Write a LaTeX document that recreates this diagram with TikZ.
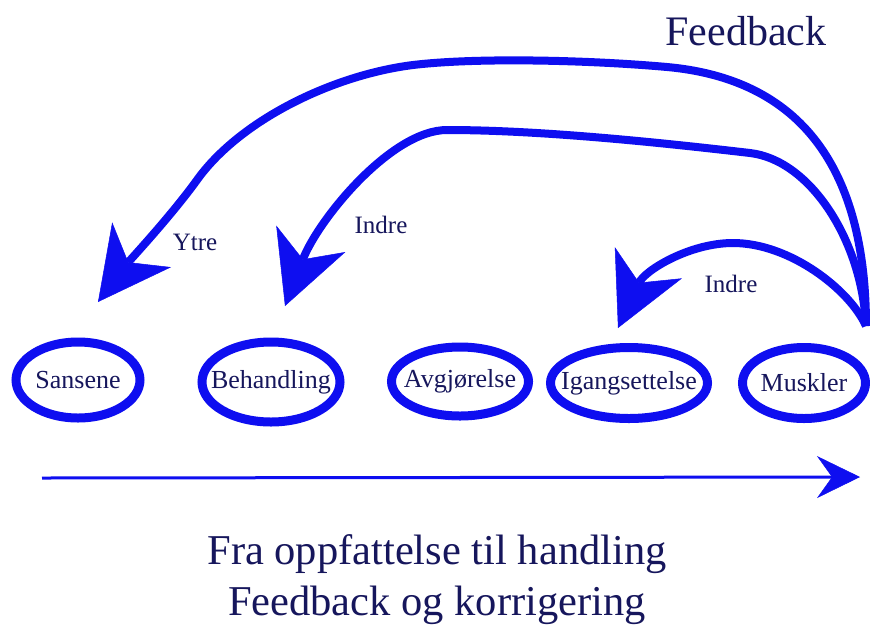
\documentclass[tikz,border=0pt]{standalone}
\usepackage{fontspec}
\setmainfont{Liberation Serif}
\usetikzlibrary{shapes.geometric,arrows.meta}
\definecolor{fb}{RGB}{14,14,240}
\definecolor{tx}{RGB}{22,22,92}
\begin{document}
\begin{tikzpicture}[x=1pt,y=-1pt,
  ell/.style={ellipse, draw=fb, line width=9pt, inner sep=0pt,
    label={[text=tx, inner sep=0pt, font=\fontsize{26pt}{30pt}\selectfont]center:#1}},
  fbarrow/.style={draw=fb, line width=8pt, line join=round,
    -{Stealth[length=72pt,width=74pt,inset=22pt,line width=0.5pt]}},
  lbl/.style={text=tx, inner sep=0pt, anchor=base, font=\fontsize{25pt}{30pt}\selectfont},
  big/.style={text=tx, inner sep=0pt, anchor=base, font=\fontsize{42.5pt}{48pt}\selectfont}]
\fill[white] (0,0) rectangle (870,625);
\useasboundingbox (0,0) rectangle (870,625);

% process ellipses
\node[ell=Sansene, minimum width=124pt, minimum height=76pt] (sans) at (78,380) {};
\node[ell=Behandling, minimum width=138pt, minimum height=80pt] (beh) at (271,382) {};
\node[ell=Avgjørelse, minimum width=137pt, minimum height=69pt] (avg) at (460,381.5) {};
\node[ell=Igangsettelse, minimum width=157pt, minimum height=71pt] (igang) at (629,383) {};
\node[ell=Muskler, minimum width=123pt, minimum height=71pt] (musk) at (804,383) {};

% feedback arrows
\coordinate (src) at (866,326);
\coordinate (tipY) at (98,302);
\coordinate (tipB) at (285,306);
\coordinate (tipI) at (618,328);

\draw[fbarrow] (src) .. controls (866,180) and (810,80) .. (667,67)
  .. controls (595,60.5) and (480,57) .. (413,65)
  .. controls (333,75) and (240,120) .. (197,180)
  .. controls (171,216) and (130,260) .. (tipY);
\draw[fbarrow] (src) .. controls (862,240) and (810,160) .. (750,153)
  .. controls (660,142.5) and (540,130) .. (447,130)
  .. controls (391,130) and (318,220) .. (tipB);
\draw[fbarrow] (src) .. controls (850,290) and (790,243) .. (733,243)
  .. controls (690,243) and (645,270) .. (tipI);

% labels
\node[lbl] (ytre) at (195,250) {Ytre};
\node[lbl] (indre1) at (381,233) {Indre};
\node[lbl] (indre2) at (731,292) {Indre};
\node[lbl, font=\fontsize{42pt}{48pt}\selectfont] (title) at (746,45) {Feedback};

% time arrow
\coordinate (hs) at (42,478);
\coordinate (he) at (860,477);
\draw[draw=fb, line width=3pt, -{Stealth[length=43pt,width=42pt,inset=15pt,line width=0.5pt]}] (hs) -- (he);

% bottom caption
\node[big] (cap1) at (437,564) {Fra oppfattelse til handling};
\node[big] (cap2) at (437,615) {Feedback og korrigering};
\end{tikzpicture}
\end{document}
